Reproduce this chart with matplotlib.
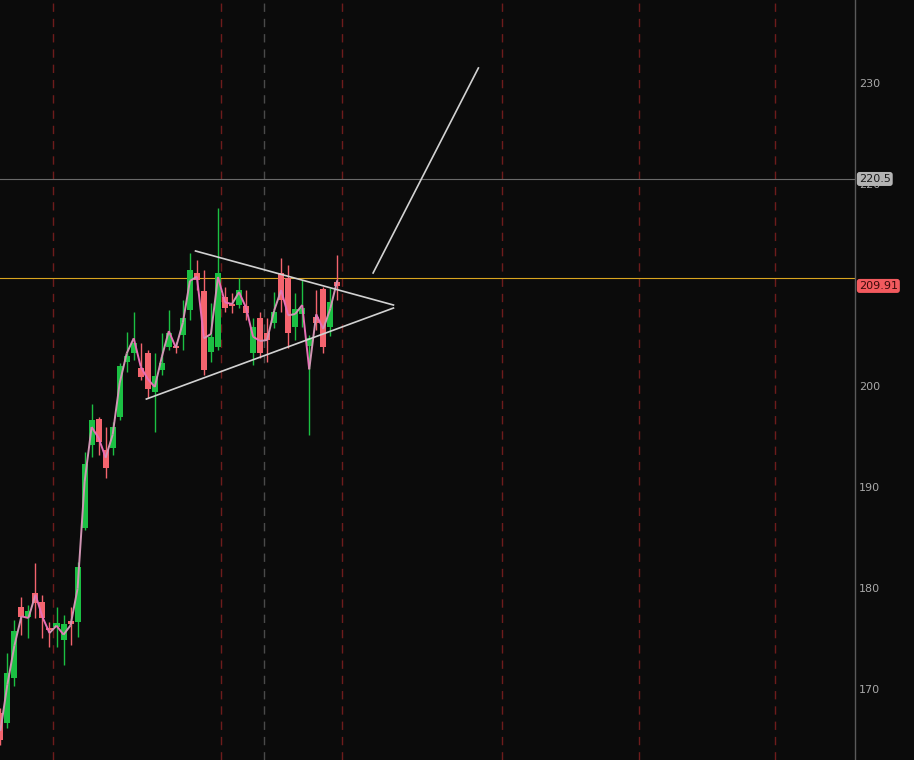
import matplotlib
matplotlib.use("Agg")
import matplotlib.pyplot as plt
import numpy as np
from matplotlib.collections import LineCollection

# ---- data ----
opens = [167.62, 166.63, 171.09, 178.12, 177.13, 179.50, 178.61, 176.04, 176.14, 174.85,
         176.73, 176.63, 185.94, 194.16, 196.73, 193.66, 193.86, 196.93, 202.38, 203.27,
         201.78, 203.27, 199.41, 201.58, 203.86, 203.96, 205.05, 207.52, 211.19, 209.41,
         203.37, 203.86, 208.81, 208.12, 208.02, 207.92, 203.27, 206.73, 205.25, 206.24,
         211.19, 210.69, 205.84, 207.13, 203.96, 206.83, 209.60, 205.84, 210.30]
highs = [168.12, 173.56, 176.83, 179.11, 178.32, 182.48, 179.31, 176.63, 178.12, 177.33,
         178.12, 182.57, 193.47, 198.22, 196.93, 195.94, 196.44, 202.28, 205.35, 207.33,
         204.26, 203.56, 203.27, 205.25, 207.52, 204.36, 208.51, 213.17, 212.48, 211.49,
         208.22, 217.62, 209.80, 209.21, 210.69, 209.50, 206.73, 207.33, 206.73, 209.31,
         212.67, 211.98, 209.21, 210.50, 205.05, 209.50, 209.80, 209.70, 212.97]
lows = [164.46, 166.14, 170.30, 175.35, 175.05, 177.03, 175.05, 174.16, 174.16, 172.38,
        174.36, 175.15, 185.74, 192.97, 193.17, 190.89, 193.17, 196.63, 201.39, 202.57,
        200.59, 198.81, 195.45, 201.09, 203.56, 203.27, 203.56, 206.53, 209.50, 201.09,
        202.38, 203.56, 207.33, 207.23, 207.72, 206.53, 202.08, 202.77, 202.38, 205.74,
        207.33, 203.76, 204.55, 205.84, 195.15, 205.54, 203.27, 204.95, 208.51]
closes = [164.95, 171.58, 175.74, 177.13, 177.72, 178.51, 177.03, 175.84, 176.53, 176.44,
          176.44, 182.08, 192.28, 196.63, 194.46, 191.88, 195.94, 201.98, 202.97, 204.26,
          200.89, 199.70, 200.99, 202.28, 205.25, 203.76, 206.73, 211.49, 210.50, 201.58,
          204.85, 211.19, 207.72, 207.92, 209.50, 207.23, 205.84, 203.27, 204.55, 207.33,
          208.51, 205.25, 207.62, 207.72, 204.75, 206.24, 203.86, 208.32, 209.91]

y_ticks = [170, 180, 190, 200, 220, 230]
resistance_level = 220.5
yellow_level = 210.7
last_price = 209.91
red_vlines = [7.55, 31.5, 48.6, 71.5, 91.0, 110.4]
gray_vlines = [37.5]
triangle_upper = ([27.8, 56.0], [213.37, 208.02])
triangle_lower = ([20.8, 56.0], [198.71, 207.72])
breakout_line = ([53.1, 68.1], [211.19, 231.49])

# ---- style ----
BG = "#0b0b0b"
UP = "#1bc043"
DN = "#f4646e"

fig = plt.figure(figsize=(9.14, 7.6), dpi=100, facecolor=BG)
ax = fig.add_axes([0, 0, 855 / 914, 1], facecolor=BG)

x = np.arange(len(closes))
ax.set_xlim(-0.05, 121.75)
ax.set_ylim(162.97, 238.22)

for v in red_vlines:
    ax.axvline(v, color="#6e1c1c", lw=1.0, ls=(0, (6, 5)), zorder=1)
for v in gray_vlines:
    ax.axvline(v, color="#4a4a4a", lw=1.0, ls=(0, (6, 5)), zorder=1)

ax.axhline(resistance_level, color="#6a6a6a", lw=0.8, zorder=2)
ax.axhline(yellow_level, color="#d9a520", lw=0.8, zorder=2)

w = 0.86
for i in x:
    o, h, l, c = opens[i], highs[i], lows[i], closes[i]
    col = UP if c >= o else DN
    ax.vlines(i, l, h, color=col, lw=1.0, zorder=3)
    bot = min(o, c)
    hgt = max(abs(c - o), 0.2)
    ax.bar(i, hgt, width=w, bottom=bot, color=col, edgecolor=col, lw=0, zorder=4)

# typical-price line, coloured by direction
tp = (np.array(highs) + np.array(lows) + np.array(closes)) / 3.0
pts = np.column_stack([x, tp])
segs = [pts[k:k + 2] for k in range(len(pts) - 1)]
cols = ["#d195b4" if tp[k + 1] >= tp[k] else "#e86fb6" for k in range(len(pts) - 1)]
ax.add_collection(LineCollection(segs, colors=cols, linewidths=1.4, zorder=5))

for xs, ys in (triangle_upper, triangle_lower, breakout_line):
    ax.plot(xs, ys, color="#d2d2d2", lw=1.2, zorder=6)

ax.yaxis.tick_right()
ax.set_yticks(y_ticks)
ax.tick_params(axis="y", length=0, pad=3, labelsize=8, labelcolor="#a8a8a8")
ax.set_xticks([])
for s in ("top", "left", "bottom"):
    ax.spines[s].set_visible(False)
ax.spines["right"].set_color("#5a5a5a")
ax.spines["right"].set_linewidth(1.0)

ax.text(1.0045, resistance_level, "220.5", transform=ax.get_yaxis_transform(),
        ha="left", va="center", fontsize=8, color="#1a1a1a", zorder=10, clip_on=False,
        bbox=dict(boxstyle="round,pad=0.18,rounding_size=0.25", fc="#b4b4b4", ec="none"))
ax.text(1.0045, last_price, "209.91", transform=ax.get_yaxis_transform(),
        ha="left", va="center", fontsize=8, color="#3a0a0a", zorder=10, clip_on=False,
        bbox=dict(boxstyle="round,pad=0.18,rounding_size=0.25", fc="#f25a5e", ec="none"))

fig.savefig("out.png", dpi=100, facecolor=BG)
